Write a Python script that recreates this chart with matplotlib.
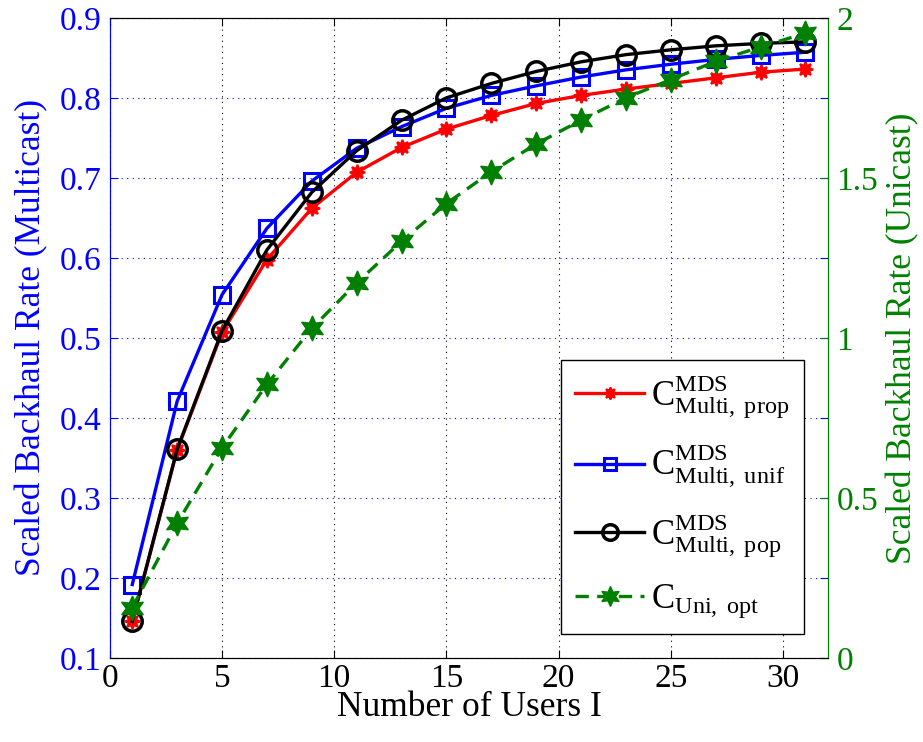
import numpy as np
import matplotlib
matplotlib.use('Agg')
import matplotlib.pyplot as plt

plt.rcParams['font.family'] = 'Liberation Serif'
plt.rcParams['mathtext.fontset'] = 'custom'
plt.rcParams['mathtext.rm'] = 'Liberation Serif'
plt.rcParams['mathtext.it'] = 'Liberation Serif:italic'

# number of users
users = [1, 3, 5, 7, 9, 11, 13, 15, 17, 19, 21, 23, 25, 27, 29, 31]

# multicast rates (left axis)
multi_prop = [0.146, 0.360, 0.507, 0.598, 0.662, 0.707, 0.738, 0.761, 0.778, 0.793,
              0.803, 0.811, 0.818, 0.825, 0.832, 0.836]
multi_unif = [0.192, 0.421, 0.554, 0.637, 0.696, 0.737, 0.764, 0.787, 0.803, 0.815,
              0.826, 0.835, 0.842, 0.848, 0.853, 0.857]
multi_pop = [0.146, 0.361, 0.509, 0.610, 0.682, 0.734, 0.772, 0.800, 0.818, 0.833,
             0.845, 0.854, 0.860, 0.865, 0.868, 0.870]

# unicast rate (right axis)
uni_opt = [0.158, 0.421, 0.657, 0.855, 1.030, 1.172, 1.302, 1.420, 1.519, 1.606,
           1.680, 1.750, 1.807, 1.864, 1.909, 1.952]

green = '#008000'

fig = plt.figure(figsize=(9.23, 7.42), dpi=100)
ax = fig.add_axes([0.119, 0.113, 0.778, 0.863])
ax2 = ax.twinx()

h1, = ax.plot(users, multi_prop, '-', color='red', lw=2.4, marker=(8, 1, 0), ms=11,
              mfc='red', mec='red', mew=1.5, label=r'$\mathrm{C}^{\mathrm{MDS}}_{\mathrm{Multi,\ prop}}$')
h2, = ax.plot(users, multi_unif, '-', color='blue', lw=2.4, marker='s', ms=11,
              mfc='none', mec='blue', mew=2.2, label=r'$\mathrm{C}^{\mathrm{MDS}}_{\mathrm{Multi,\ unif}}$')
h3, = ax.plot(users, multi_pop, '-', color='black', lw=2.4, marker='o', ms=14,
              mfc='none', mec='black', mew=2.5, label=r'$\mathrm{C}^{\mathrm{MDS}}_{\mathrm{Multi,\ pop}}$')
h4, = ax2.plot(users, uni_opt, '--', color=green, lw=2.4, dashes=(4, 2.5), marker=(6, 1, 0),
               ms=18, mfc=green, mec=green, label=r'$\mathrm{C}_{\mathrm{Uni,\ opt}}$')

ax.set_xlim(0, 32)
ax.set_ylim(0.1, 0.9)
ax2.set_ylim(0, 2)
ax.set_xticks(np.arange(0, 31, 5))
ax.set_yticks(np.arange(0.1, 0.91, 0.1))
ax.set_yticklabels(['%.1f' % v for v in np.arange(0.1, 0.91, 0.1)])
ax2.set_yticks([0, 0.5, 1, 1.5, 2])
ax2.set_yticklabels(['0', '0.5', '1', '1.5', '2'])

ax.xaxis.grid(True, linestyle=(0, (1, 4)), color='black', lw=0.8)
ax.yaxis.grid(True, linestyle=(0, (1, 4)), color='blue', lw=0.8)

ax.tick_params(axis='x', direction='in', top=True, labelsize=24, length=6, pad=4)
ax.tick_params(axis='y', direction='in', right=True, colors='blue', labelsize=24, length=6, pad=6)
ax2.tick_params(axis='y', direction='in', colors=green, labelsize=24, length=6, pad=6)

ax.spines['left'].set_color('blue')
ax2.spines['left'].set_color('blue')
ax2.spines['right'].set_color(green)
ax.spines['right'].set_color(green)

ax.set_xlabel('Number of Users I', fontsize=25.5, labelpad=-2)
ax.set_ylabel('Scaled Backhaul Rate (Multicast)', fontsize=25.5, color='blue', labelpad=8)
ax2.set_ylabel('Scaled Backhaul Rate (Unicast)', fontsize=25.5, color=green, labelpad=6)

leg = ax2.legend(handles=[h1, h2, h3, h4], loc='lower right', fontsize=25,
                 frameon=True, fancybox=False, edgecolor='black', framealpha=1,
                 borderaxespad=0.7, handlelength=2.0, handletextpad=0.2,
                 borderpad=0.4, labelspacing=0.65, markerscale=0.8)
leg.get_frame().set_linewidth(1.0)

fig.savefig('out.png', dpi=100)
